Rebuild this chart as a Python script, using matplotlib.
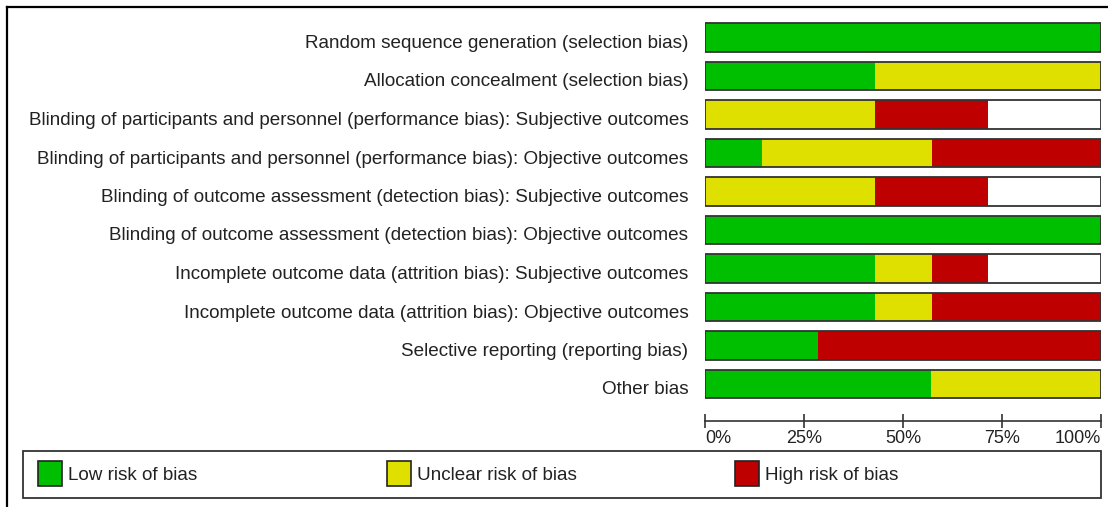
import numpy as np
import matplotlib.pyplot as plt
from matplotlib.patches import Rectangle
from matplotlib.lines import Line2D
from matplotlib.transforms import ScaledTranslation

# risk of bias domains, top to bottom
domains = [
    "Random sequence generation (selection bias)",
    "Allocation concealment (selection bias)",
    "Blinding of participants and personnel (performance bias): Subjective outcomes",
    "Blinding of participants and personnel (performance bias): Objective outcomes",
    "Blinding of outcome assessment (detection bias): Subjective outcomes",
    "Blinding of outcome assessment (detection bias): Objective outcomes",
    "Incomplete outcome data (attrition bias): Subjective outcomes",
    "Incomplete outcome data (attrition bias): Objective outcomes",
    "Selective reporting (reporting bias)",
    "Other bias",
]
# percent of studies per judgement (7 studies)
low = [100.0, 42.9, 0.0, 14.3, 0.0, 100.0, 42.9, 42.9, 28.6, 57.1]
unclear = [0.0, 57.1, 42.9, 42.9, 42.9, 0.0, 14.3, 14.3, 0.0, 42.9]
high = [0.0, 0.0, 28.6, 42.9, 28.6, 0.0, 14.3, 42.9, 71.4, 0.0]

tick_vals = [0, 25, 50, 75, 100]
tick_labels = ["0%", "25%", "50%", "75%", "100%"]
legend_labels = ["Low risk of bias", "Unclear risk of bias", "High risk of bias"]

GREEN = "#00bf00"
YELLOW = "#e0e000"
RED = "#bf0000"
EDGE = "#333333"
TXT = "#222222"
FS = 13.6

W, H = 1108, 507
plt.rcParams["font.family"] = ["Liberation Sans", "DejaVu Sans"]
fig = plt.figure(figsize=(W / 100, H / 100), dpi=100)

def px(x0, y0, x1, y1):
    # pixel box -> figure fraction [left, bottom, width, height]
    return [x0 / W, 1 - y1 / H, (x1 - x0) / W, (y1 - y0) / H]

ax = fig.add_axes(px(705, 18.25, 1101, 403.25))
y = np.arange(len(domains))
low = np.array(low)
unclear = np.array(unclear)
high = np.array(high)
bh = 0.75
ax.barh(y, low, height=bh, color=GREEN, linewidth=0)
ax.barh(y, unclear, left=low, height=bh, color=YELLOW, linewidth=0)
ax.barh(y, high, left=low + unclear, height=bh, color=RED, linewidth=0)
ax.barh(y, [100] * len(y), height=bh, fill=False, edgecolor=EDGE, linewidth=1.3)

ax.set_xlim(0, 100)
ax.set_ylim(len(domains) - 0.5, -0.5)
ax.set_yticks(y)
ax.set_yticklabels(domains, fontsize=FS, color=TXT)
ax.tick_params(axis="y", length=0, pad=12)
shift = ScaledTranslation(0, -4 / 100, fig.dpi_scale_trans)
for t in ax.get_yticklabels():
    t.set_transform(t.get_transform() + shift)
for s in ["top", "right", "left"]:
    ax.spines[s].set_visible(False)
ax.spines["bottom"].set_position(("outward", 13))
ax.spines["bottom"].set_color(EDGE)
ax.spines["bottom"].set_linewidth(1.2)
ax.set_xticks(tick_vals)
ax.set_xticklabels(tick_labels, fontsize=13, color=TXT)
ax.tick_params(axis="x", direction="inout", length=10, width=1.2, color=EDGE, pad=1)
tl = ax.get_xticklabels()
tl[0].set_horizontalalignment("left")
tl[-1].set_horizontalalignment("right")

# outer frame (top and left edges visible)
fig.add_artist(Line2D([7 / W, 7 / W], [0, 1 - 7 / H], transform=fig.transFigure,
                      color="black", linewidth=1.6))
fig.add_artist(Line2D([7 / W, 1], [1 - 7 / H, 1 - 7 / H], transform=fig.transFigure,
                      color="black", linewidth=1.6))

# legend box
lb = px(23, 451, 1101, 498)
fig.add_artist(Rectangle((lb[0], lb[1]), lb[2], lb[3], transform=fig.transFigure,
                         fill=False, edgecolor=EDGE, linewidth=1.3))
for lx, col, lab in zip([38, 387, 735], [GREEN, YELLOW, RED], legend_labels):
    b = px(lx, 461, lx + 24, 486)
    fig.add_artist(Rectangle((b[0], b[1]), b[2], b[3], transform=fig.transFigure,
                             facecolor=col, edgecolor="#222222", linewidth=1.2))
    fig.text((lx + 30) / W, 1 - 475 / H, lab, fontsize=FS, color=TXT,
             va="center", ha="left")

fig.savefig("out.png", dpi=100)
